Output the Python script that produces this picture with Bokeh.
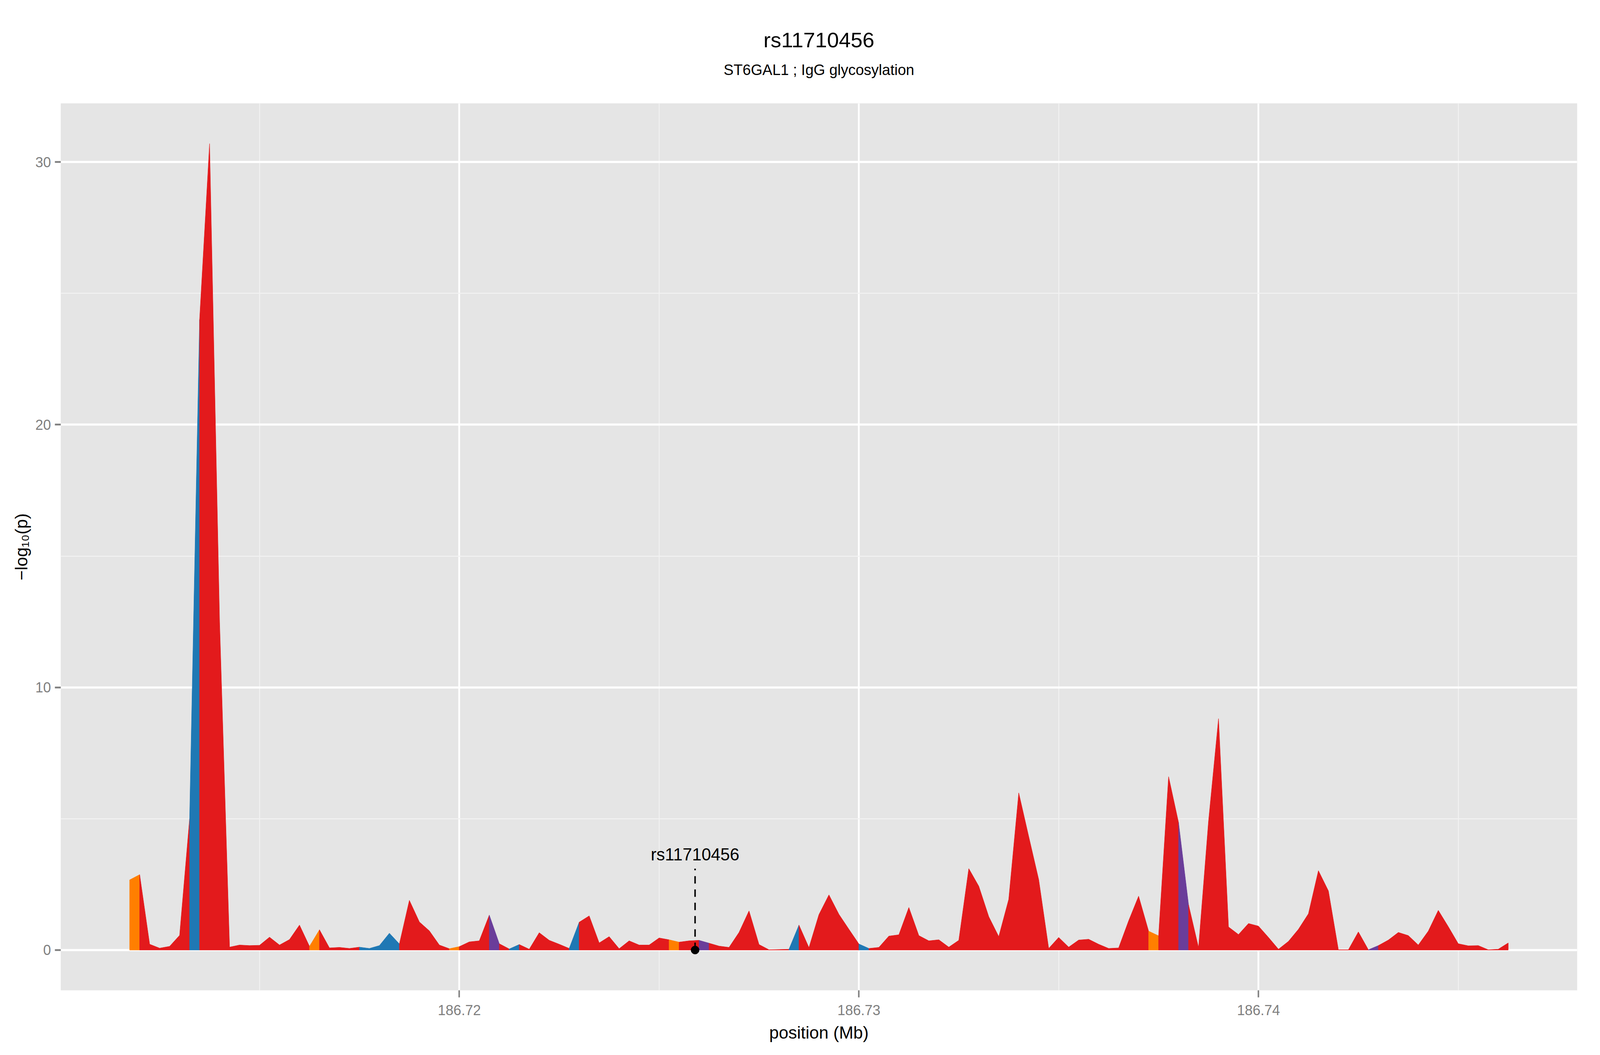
#Regional association plot for rs11710456 (ST6GAL1, IgG glycosylation)

#Import required packages

from bokeh.plotting import figure
from bokeh.models import Range1d, FixedTicker, Title, ColumnDataSource, NumeralTickFormatter
from bokeh.core.properties import value
from bokeh.embed import file_html
from bokeh.resources import INLINE

#SNP positions (Mb)

position = [
    186.71175, 186.71200, 186.71225, 186.71250, 186.71275, 186.71300, 186.71325, 186.71350,
    186.71375, 186.71400, 186.71425, 186.71450, 186.71475, 186.71500, 186.71525, 186.71550,
    186.71575, 186.71600, 186.71625, 186.71650, 186.71675, 186.71700, 186.71725, 186.71750,
    186.71775, 186.71800, 186.71825, 186.71850, 186.71875, 186.71900, 186.71925, 186.71950,
    186.71975, 186.72000, 186.72025, 186.72050, 186.72075, 186.72100, 186.72125, 186.72150,
    186.72175, 186.72200, 186.72225, 186.72250, 186.72275, 186.72300, 186.72325, 186.72350,
    186.72375, 186.72400, 186.72425, 186.72450, 186.72475, 186.72500, 186.72525, 186.72550,
    186.72575, 186.72600, 186.72625, 186.72650, 186.72675, 186.72700, 186.72725, 186.72750,
    186.72775, 186.72800, 186.72825, 186.72850, 186.72875, 186.72900, 186.72925, 186.72950,
    186.72975, 186.73000, 186.73025, 186.73050, 186.73075, 186.73100, 186.73125, 186.73150,
    186.73175, 186.73200, 186.73225, 186.73250, 186.73275, 186.73300, 186.73325, 186.73350,
    186.73375, 186.73400, 186.73425, 186.73450, 186.73475, 186.73500, 186.73525, 186.73550,
    186.73575, 186.73600, 186.73625, 186.73650, 186.73675, 186.73700, 186.73725, 186.73750,
    186.73775, 186.73800, 186.73825, 186.73850, 186.73875, 186.73900, 186.73925, 186.73950,
    186.73975, 186.74000, 186.74025, 186.74050, 186.74075, 186.74100, 186.74125, 186.74150,
    186.74175, 186.74200, 186.74225, 186.74250, 186.74275, 186.74300, 186.74325, 186.74350,
    186.74375, 186.74400, 186.74425, 186.74450, 186.74475, 186.74500, 186.74525, 186.74550,
    186.74575, 186.74600, 186.74625,
]

#-log10(p) at each position

logp = [
    2.67, 2.87, 0.22, 0.07, 0.14, 0.56, 5.00, 24.0,
    30.7, 12.5, 0.11, 0.19, 0.17, 0.18, 0.49, 0.19,
    0.40, 0.95, 0.14, 0.77, 0.08, 0.10, 0.06, 0.11,
    0.06, 0.17, 0.64, 0.23, 1.89, 1.07, 0.73, 0.19,
    0.05, 0.13, 0.31, 0.35, 1.33, 0.24, 0.04, 0.21,
    0.03, 0.66, 0.37, 0.22, 0.06, 1.06, 1.30, 0.27,
    0.51, 0.05, 0.35, 0.19, 0.19, 0.46, 0.39, 0.30,
    0.35, 0.37, 0.26, 0.15, 0.10, 0.67, 1.49, 0.21,
    0.01, 0.02, 0.03, 0.95, 0.09, 1.35, 2.10, 1.36,
    0.79, 0.23, 0.06, 0.10, 0.53, 0.58, 1.62, 0.55,
    0.35, 0.39, 0.11, 0.37, 3.10, 2.43, 1.27, 0.51,
    1.93, 5.98, 4.32, 2.68, 0.06, 0.48, 0.11, 0.38,
    0.41, 0.22, 0.06, 0.08, 1.11, 2.05, 0.72, 0.54,
    6.60, 4.85, 1.72, 0.09, 4.90, 8.81, 0.88, 0.59,
    1.01, 0.91, 0.48, 0.03, 0.33, 0.79, 1.38, 3.02,
    2.25, 0.01, 0.01, 0.69, 0.01, 0.17, 0.38, 0.67,
    0.55, 0.19, 0.72, 1.51, 0.89, 0.24, 0.16, 0.17,
    0.01, 0.03, 0.27,
]

#LD class of the stretch between two neighbouring SNPs (R red, B blue, O orange, P purple)

ld_class = [
    "O", "R", "R", "R", "R", "R", "B", "R", "R", "R",
    "R", "R", "R", "R", "R", "R", "R", "R", "O", "R",
    "R", "R", "R", "B", "B", "B", "B", "R", "R", "R",
    "R", "R", "O", "R", "R", "R", "P", "R", "B", "R",
    "R", "R", "R", "R", "B", "R", "R", "R", "R", "R",
    "R", "R", "R", "R", "O", "R", "R", "P", "R", "R",
    "R", "R", "R", "R", "R", "R", "B", "R", "R", "R",
    "R", "R", "R", "B", "R", "R", "R", "R", "R", "R",
    "R", "R", "R", "R", "R", "R", "R", "R", "R", "R",
    "R", "R", "R", "R", "R", "R", "R", "R", "R", "R",
    "R", "R", "O", "R", "R", "P", "R", "R", "R", "R",
    "R", "R", "R", "R", "R", "R", "R", "R", "R", "R",
    "R", "R", "R", "R", "P", "R", "R", "R", "R", "R",
    "R", "R", "R", "R", "R", "R", "R", "R",
]

#Lead SNP

lead_snp = "rs11710456"
lead_pos = 186.7259
lead_logp = 0.0

plot_title = "rs11710456"
plot_subtitle = "ST6GAL1 ; IgG glycosylation"

x_ticks = [186.72, 186.73, 186.74]
x_minor = [186.715, 186.725, 186.735, 186.745]
y_ticks = [0, 10, 20, 30]
y_minor = [5, 15, 25]

ld_colors = {"R": "#E31A1C", "B": "#1F78B4", "O": "#FF7F00", "P": "#6A3D9A"}

#Join neighbouring stretches of the same LD class into one area

xs, ys, cols = [], [], []
start = 0
for i in range(1, len(ld_class) + 1):
    if i == len(ld_class) or ld_class[i] != ld_class[start]:
        px = position[start:i + 1]
        py = logp[start:i + 1]
        xs.append(px + [px[-1], px[0]])
        ys.append(py + [0, 0])
        cols.append(ld_colors[ld_class[start]])
        start = i

areas = ColumnDataSource(data={'xs': xs, 'ys': ys, 'c': cols})

#Create the plot (ranges padded by 5% like ggplot)

xpad = 0.05 * (max(position) - min(position))
ypad = 0.05 * max(logp)

plot = figure(width=4080, height=2684,
              x_range=Range1d(min(position) - xpad, max(position) + xpad),
              y_range=Range1d(-ypad, max(logp) + ypad),
              output_backend="svg", toolbar_location=None,
              min_border_left=155, min_border_right=43,
              min_border_top=264, min_border_bottom=150)

plot.background_fill_color = "#E5E5E5"
plot.border_fill_color = "white"
plot.outline_line_color = None

plot.xaxis.ticker = FixedTicker(ticks=x_ticks, minor_ticks=x_minor)
plot.yaxis.ticker = FixedTicker(ticks=y_ticks, minor_ticks=y_minor)
plot.xaxis.formatter = NumeralTickFormatter(format="0.00")

plot.xgrid.grid_line_color = "white"
plot.xgrid.grid_line_width = 4.5
plot.xgrid.minor_grid_line_color = "#F2F2F2"
plot.xgrid.minor_grid_line_width = 2.3
plot.ygrid.grid_line_color = "white"
plot.ygrid.grid_line_width = 5.3
plot.ygrid.minor_grid_line_color = "#F2F2F2"
plot.ygrid.minor_grid_line_width = 2.6

plot.axis.axis_line_color = None
plot.axis.major_tick_line_color = "#7F7F7F"
plot.xaxis.major_tick_line_width = 3.8
plot.yaxis.major_tick_line_width = 4.5
plot.xaxis.major_tick_out = 18
plot.yaxis.major_tick_out = 15
plot.axis.major_tick_in = 0
plot.axis.minor_tick_line_color = None
plot.axis.major_label_text_color = "#7F7F7F"
plot.axis.major_label_text_font = "Liberation Sans"
plot.axis.major_label_text_font_size = "36px"
plot.xaxis.major_label_standoff = 19
plot.yaxis.major_label_standoff = 10

plot.xaxis.axis_label = "position (Mb)"
plot.yaxis.axis_label = "\u2212log\u2081\u2080(p)"
plot.axis.axis_label_text_font = "Liberation Sans"
plot.axis.axis_label_text_font_size = "44px"
plot.axis.axis_label_text_font_style = "normal"
plot.axis.axis_label_text_color = "black"
plot.xaxis.axis_label_standoff = 17
plot.yaxis.axis_label_standoff = 8

#Association areas coloured by LD

plot.patches(xs='xs', ys='ys', fill_color='c', line_color='c', line_width=1, source=areas)

#Lead SNP marker with its label

plot.segment(x0=[lead_pos], y0=[lead_logp], x1=[lead_pos], y1=[3.1],
             line_color="black", line_width=3.8, line_dash="19 15")
plot.scatter([lead_pos], [lead_logp], size=21, color="black")
plot.text(x=[lead_pos], y=[3.63], text=[lead_snp], text_align="center",
          text_baseline="alphabetic", text_font=value("Liberation Sans"),
          text_font_size="43.5px", text_color="black")

#Title and subtitle above the panel (an empty title keeps the gap to the panel)

plot.add_layout(Title(text=" ", text_font_size="1px", standoff=39), "above")
plot.add_layout(Title(text=plot_subtitle, align="center", standoff=46,
                      text_font="Liberation Sans", text_font_size="38px",
                      text_font_style="normal", text_color="black"), "above")
plot.add_layout(Title(text=plot_title, align="center", standoff=0,
                      text_font="Liberation Sans", text_font_size="54.5px",
                      text_font_style="normal", text_color="black"), "above")

#Output the plot

open("out.html", "w").write(file_html(plot, INLINE))
